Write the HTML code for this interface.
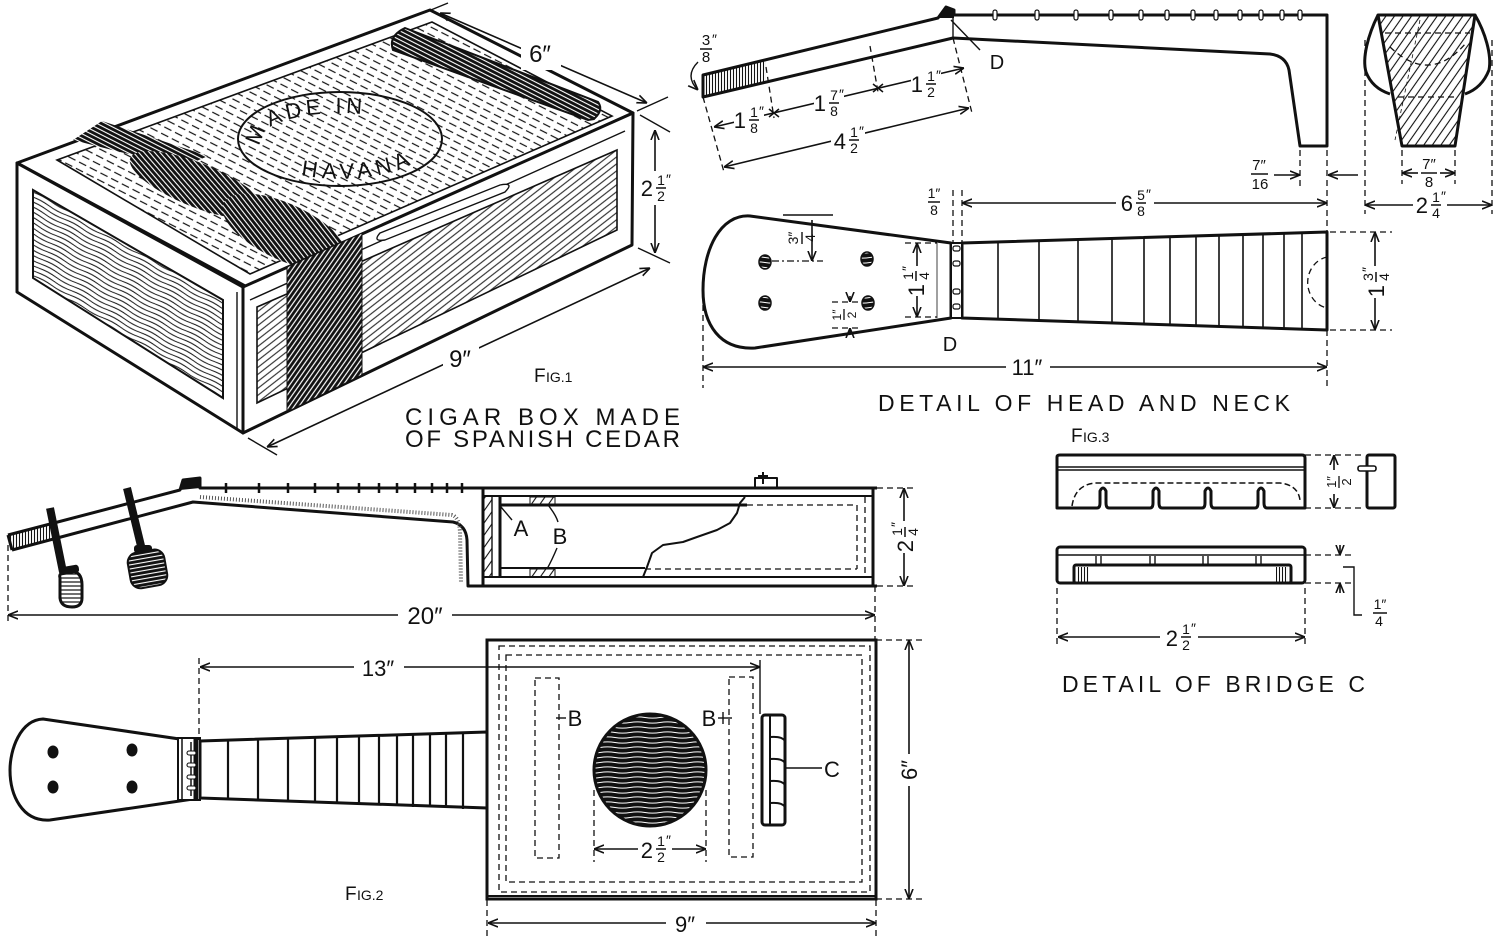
<!DOCTYPE html>
<html><head><meta charset="utf-8"><title>Cigar box ukulele</title><style>
html,body{margin:0;padding:0;background:#fff}
svg{display:block}
text{font-family:"Liberation Sans",sans-serif;fill:#111}
.o{fill:none;stroke:#111;stroke-width:3;stroke-linejoin:round}
.m{fill:none;stroke:#111;stroke-width:2;stroke-linejoin:round}
.t{fill:none;stroke:#111;stroke-width:1.4}
.d{fill:none;stroke:#111;stroke-width:1.6;marker-start:url(#a);marker-end:url(#a)}
.de{fill:none;stroke:#111;stroke-width:1.6;marker-end:url(#a)}
.x{fill:none;stroke:#111;stroke-width:1.3;stroke-dasharray:6 4}
.bg{fill:#fff;stroke:none}
.b{font-size:22px}
.s{font-size:14px}
</style></head><body>
<svg xmlns="http://www.w3.org/2000/svg" width="1500" height="939" viewBox="0 0 1500 939">
<defs>
<marker id="a" viewBox="0 0 10 10" refX="10" refY="5" markerWidth="10" markerHeight="10" markerUnits="userSpaceOnUse" orient="auto-start-reverse"><path d="M0,1 L10,5 L0,9" fill="none" stroke="#111" stroke-width="1.6"/></marker>
<pattern id="pDash" patternUnits="userSpaceOnUse" width="12" height="7" patternTransform="rotate(27)"><line x1="0" y1="3.5" x2="8" y2="3.5" stroke="#111" stroke-width="1.2"/></pattern>
<pattern id="pGrain" patternUnits="userSpaceOnUse" width="40" height="4.6" patternTransform="rotate(28)"><path d="M0,2.3 Q10,0.8 20,2.3 T40,2.3" fill="none" stroke="#111" stroke-width="1"/></pattern>
<pattern id="pDiag" patternUnits="userSpaceOnUse" width="20" height="5.5" patternTransform="rotate(-38)"><line x1="0" y1="2.7" x2="20" y2="2.7" stroke="#111" stroke-width="1"/></pattern>
<pattern id="pDk" patternUnits="userSpaceOnUse" width="10" height="4" patternTransform="rotate(27)"><rect width="10" height="4" fill="#111"/><line x1="0" y1="2" x2="10" y2="2" stroke="#fff" stroke-width="1.1"/></pattern>
<pattern id="pDk2" patternUnits="userSpaceOnUse" width="10" height="4" patternTransform="rotate(-55)"><rect width="10" height="4" fill="#111"/><line x1="0" y1="2" x2="10" y2="2" stroke="#fff" stroke-width="1.2"/></pattern>
<pattern id="pX" patternUnits="userSpaceOnUse" width="10" height="7" patternTransform="rotate(-55)"><line x1="0" y1="3.5" x2="10" y2="3.5" stroke="#111" stroke-width="1.1"/></pattern>
<pattern id="pV" patternUnits="userSpaceOnUse" width="3" height="10"><line x1="1.5" y1="0" x2="1.5" y2="10" stroke="#111" stroke-width="1.1"/></pattern>
<pattern id="pHole" patternUnits="userSpaceOnUse" width="30" height="5"><rect width="30" height="5" fill="#111"/><path d="M0,2.5 Q7.5,1.3 15,2.5 T30,2.5" stroke="#fff" stroke-width="1" fill="none"/></pattern>
<pattern id="pH" patternUnits="userSpaceOnUse" width="10" height="4"><line x1="0" y1="2" x2="10" y2="2" stroke="#111" stroke-width="1.2"/></pattern>
<pattern id="pHd" patternUnits="userSpaceOnUse" width="10" height="4"><rect width="10" height="4" fill="#111"/><line x1="0" y1="2" x2="10" y2="2" stroke="#fff" stroke-width="1.1"/></pattern>
</defs>

<!-- ================= FIG 1 : CIGAR BOX ================= -->
<polygon points="17,163 430,10 633,113 247,287" fill="#fff" stroke="#111" stroke-width="3" stroke-linejoin="round"/>
<polygon points="57,160 432,22 612,116 250,274" fill="url(#pDash)" stroke="#111" stroke-width="1.6"/>
<path d="M405,28 L598,102 Q604,110 594,119 L588,120 L393,50 Q388,36 405,28 Z" fill="url(#pDk)" stroke="#111" stroke-width="2"/>
<polygon points="73,140 102,121 208,156 185,166 120,152" fill="url(#pDk)"/>
<ellipse cx="197" cy="185" rx="72" ry="22" transform="rotate(22 197 185)" fill="url(#pDk)"/>
<ellipse cx="285" cy="232" rx="68" ry="28" transform="rotate(25 285 232)" fill="url(#pDk)"/>
<ellipse cx="340" cy="139" rx="102" ry="47" fill="none" stroke="#111" stroke-width="2"/>
<path id="arc1" d="M265,146 A78,26 0 0 1 379,116.5" fill="none"/>
<path id="arc2" d="M301,175 A92,40 0 0 0 420,119" fill="none"/>
<text font-size="22" letter-spacing="4"><textPath href="#arc1" startOffset="0%">MADE IN</textPath></text>
<text font-size="22" letter-spacing="5"><textPath href="#arc2" startOffset="0%">HAVANA</textPath></text>

<polygon points="17,163 243,287 243,433 17,292" fill="#fff" stroke="#111" stroke-width="3" stroke-linejoin="round"/>
<polygon points="33,190 223,300 223,398 33,278" fill="url(#pGrain)" stroke="#111" stroke-width="2"/>
<line x1="237" y1="292" x2="237" y2="430" class="t"/>
<polygon points="243,287 633,113 632,245 243,433" fill="#fff" stroke="#111" stroke-width="3" stroke-linejoin="round"/>
<polygon points="257,307 617,150 617,230 257,403" fill="url(#pDiag)" stroke="#111" stroke-width="1.6"/>
<line x1="250" y1="300" x2="625" y2="131" class="t"/>
<path d="M380,233 L500,185 Q515,182 505,192 L385,240 Q372,242 380,233 Z" fill="#fff" stroke="#111" stroke-width="1.4"/>
<polygon points="287,267 362,233 362,375 287,412" fill="url(#pDk2)" stroke="#111" stroke-width="1"/>

<line x1="440" y1="13" x2="647" y2="103" class="d"/>
<line x1="637" y1="111" x2="668" y2="97" class="t"/>
<line x1="426" y1="12" x2="448" y2="3" class="t"/>
<rect x="521" y="40" width="40" height="30" class="bg"/>
<text x="540" y="62" font-size="24" text-anchor="middle">6″</text>
<line x1="655" y1="130" x2="655" y2="253" class="d"/>
<line x1="640" y1="115" x2="670" y2="132" class="t"/>
<line x1="638" y1="248" x2="670" y2="263" class="t"/>
<rect x="640" y="171" width="32" height="34" class="bg"/>
<text x="653" y="196" class="b" text-anchor="end">2</text>
<text x="661" y="185" class="s" text-anchor="middle">1</text><text x="666" y="184" class="s">″</text>
<line x1="656" y1="188" x2="666" y2="188" stroke="#111" stroke-width="1.5"/>
<text x="661" y="201" class="s" text-anchor="middle">2</text>
<line x1="267" y1="447" x2="650" y2="268" class="d"/>
<line x1="248" y1="438" x2="277" y2="455" class="t"/>
<rect x="443" y="344" width="36" height="30" class="bg"/>
<text x="460" y="367" font-size="24" text-anchor="middle">9″</text>
<text x="534" y="382" font-size="19">F</text><text x="546" y="382" font-size="14">IG.1</text>
<text x="405" y="425" font-size="24" textLength="275" lengthAdjust="spacing">CIGAR BOX MADE</text>
<text x="405" y="447" font-size="24" textLength="275" lengthAdjust="spacing">OF SPANISH CEDAR</text>

<!-- ================= FIG 3 HEAD & NECK (side) ================= -->
<path d="M703,75 L938,18 L946,7 L954,10 L954,15 L1327,15 L1327,146 L1300,146 L1289,70 Q1286,56 1270,54 L953,38 L703,97 Z" class="o" fill="#fff"/>
<polygon points="703,75 766,60 766,82 703,97" fill="url(#pV)"/>
<polygon points="938,18 946,7 954,10 954,18" fill="#111"/>
<line x1="953" y1="18" x2="953" y2="38" class="t"/>
<g fill="#fff" stroke="#111" stroke-width="1.2">
<rect x="993" y="10" width="4" height="10" rx="2"/><rect x="1035" y="10" width="4" height="10" rx="2"/><rect x="1074" y="10" width="4" height="10" rx="2"/><rect x="1109" y="10" width="4" height="10" rx="2"/><rect x="1139" y="10" width="4" height="10" rx="2"/><rect x="1165" y="10" width="4" height="10" rx="2"/><rect x="1191" y="10" width="4" height="10" rx="2"/><rect x="1214" y="10" width="4" height="10" rx="2"/><rect x="1238" y="10" width="4" height="10" rx="2"/><rect x="1259" y="10" width="4" height="10" rx="2"/><rect x="1280" y="10" width="4" height="10" rx="2"/><rect x="1298" y="10" width="4" height="10" rx="2"/>
</g>
<line x1="703" y1="97" x2="724" y2="172" class="x"/>
<line x1="766" y1="67" x2="774" y2="118" class="x"/>
<line x1="870" y1="46" x2="878" y2="92" class="x"/>
<line x1="953" y1="38" x2="972" y2="113" class="x"/>
<line x1="714" y1="127" x2="964" y2="68" class="d"/>
<line x1="724" y1="167" x2="969" y2="108" class="d"/>
<path d="M769,109 L779,117 M779,109 L769,117 M873,84 L883,92 M883,84 L873,92" stroke="#111" stroke-width="1.5"/>
<rect x="734" y="105" width="30" height="32" class="bg"/>
<text x="746" y="128" class="b" text-anchor="end">1</text><text x="754" y="117" class="s" text-anchor="middle">1</text><text x="759" y="116" class="s">″</text><line x1="749" y1="120" x2="759" y2="120" stroke="#111" stroke-width="1.5"/><text x="754" y="133" class="s" text-anchor="middle">8</text>
<rect x="814" y="88" width="30" height="32" class="bg"/>
<text x="826" y="111" class="b" text-anchor="end">1</text><text x="834" y="100" class="s" text-anchor="middle">7</text><text x="839" y="99" class="s">″</text><line x1="829" y1="103" x2="839" y2="103" stroke="#111" stroke-width="1.5"/><text x="834" y="116" class="s" text-anchor="middle">8</text>
<rect x="911" y="69" width="30" height="32" class="bg"/>
<text x="923" y="92" class="b" text-anchor="end">1</text><text x="931" y="81" class="s" text-anchor="middle">1</text><text x="936" y="80" class="s">″</text><line x1="926" y1="84" x2="936" y2="84" stroke="#111" stroke-width="1.5"/><text x="931" y="97" class="s" text-anchor="middle">2</text>
<rect x="831" y="124" width="34" height="34" class="bg"/>
<text x="846" y="149" class="b" text-anchor="end">4</text><text x="854" y="137" class="s" text-anchor="middle">1</text><text x="859" y="136" class="s">″</text><line x1="849" y1="140" x2="859" y2="140" stroke="#111" stroke-width="1.5"/><text x="854" y="153" class="s" text-anchor="middle">2</text>
<text x="706" y="45" font-size="15" text-anchor="middle">3</text><text x="712" y="44" font-size="14">″</text><line x1="700" y1="49" x2="712" y2="49" stroke="#111" stroke-width="1.5"/><text x="706" y="62" font-size="15" text-anchor="middle">8</text>
<path d="M698,62 Q684,76 698,90" class="t" marker-end="url(#a)"/>
<line x1="951" y1="20" x2="980" y2="50" class="t"/>
<text x="997" y="69" font-size="20" text-anchor="middle">D</text>
<line x1="1300" y1="150" x2="1300" y2="186" class="x"/>
<line x1="1274" y1="175" x2="1300" y2="175" class="de"/>
<line x1="1358" y1="175" x2="1328" y2="175" class="de"/>
<text x="1259" y="170" font-size="15" text-anchor="middle">7″</text><line x1="1251" y1="174" x2="1268" y2="174" stroke="#111" stroke-width="1.5"/><text x="1260" y="189" font-size="15" text-anchor="middle">16</text>

<polygon points="1378,15 1475,15 1455,146 1402,146" fill="url(#pX)" stroke="#111" stroke-width="3" stroke-linejoin="round"/>
<path d="M1378,15 C1368,35 1362,58 1366,72 Q1372,88 1390,94" class="o"/>
<path d="M1475,15 C1485,32 1492,55 1489,70 Q1482,88 1465,94" class="o"/>
<line x1="1385" y1="33" x2="1470" y2="33" class="x"/>
<path d="M1390,47 Q1430,85 1466,43" class="x"/>
<line x1="1398" y1="97" x2="1457" y2="97" class="x"/>
<line x1="1420" y1="20" x2="1395" y2="140" stroke="#111" stroke-width="0.8" stroke-dasharray="4 3"/>
<line x1="1402" y1="150" x2="1402" y2="184" class="x"/>
<line x1="1455" y1="150" x2="1455" y2="184" class="x"/>
<line x1="1418" y1="173" x2="1402" y2="173" class="de"/>
<line x1="1440" y1="173" x2="1455" y2="173" class="de"/>
<text x="1429" y="169" font-size="15" text-anchor="middle">7″</text><line x1="1421" y1="173" x2="1437" y2="173" stroke="#111" stroke-width="1.5"/><text x="1429" y="187" font-size="15" text-anchor="middle">8</text>
<line x1="1365" y1="40" x2="1365" y2="214" class="x"/>
<line x1="1492" y1="40" x2="1492" y2="214" class="x"/>
<line x1="1365" y1="205" x2="1492" y2="205" class="d"/>
<rect x="1413" y="189" width="34" height="34" class="bg"/>
<text x="1428" y="213" class="b" text-anchor="end">2</text><text x="1436" y="202" class="s" text-anchor="middle">1</text><text x="1441" y="201" class="s">″</text><line x1="1431" y1="205" x2="1441" y2="205" stroke="#111" stroke-width="1.5"/><text x="1436" y="218" class="s" text-anchor="middle">4</text>

<!-- ================= HEAD & NECK top view ================= -->
<path d="M951,243 L750,216 C720,214 703,250 703,290 C703,325 720,350 755,348 L951,318 Z" class="o" fill="#fff"/>
<path d="M962,243 L1327,232 L1327,330 L962,318 Z" class="o" fill="#fff"/>
<rect x="951" y="243" width="11" height="75" fill="#fff" stroke="#111" stroke-width="2"/>
<g fill="#fff" stroke="#111" stroke-width="1.2">
<rect x="953" y="246" width="7" height="5" rx="2"/><rect x="953" y="261" width="7" height="5" rx="2"/><rect x="953" y="289" width="7" height="5" rx="2"/><rect x="953" y="304" width="7" height="5" rx="2"/>
</g>
<line x1="937" y1="243" x2="937" y2="318" stroke="#111" stroke-width="0.8"/>
<g stroke="#111" stroke-width="1.6">
<line x1="998" y1="241" x2="998" y2="319"/><line x1="1039" y1="240" x2="1039" y2="321"/><line x1="1078" y1="239" x2="1078" y2="322"/><line x1="1112" y1="238" x2="1112" y2="323"/><line x1="1144" y1="237" x2="1144" y2="324"/><line x1="1170" y1="236" x2="1170" y2="325"/><line x1="1196" y1="236" x2="1196" y2="326"/><line x1="1219" y1="235" x2="1219" y2="327"/><line x1="1243" y1="234" x2="1243" y2="327"/><line x1="1263" y1="234" x2="1263" y2="328"/><line x1="1284" y1="233" x2="1284" y2="329"/><line x1="1302" y1="233" x2="1302" y2="329"/>
</g>
<path d="M1327,257 A24,26 0 0 0 1327,308" class="x"/>
<g fill="url(#pHole)" stroke="#111" stroke-width="1.5">
<ellipse cx="765" cy="262" rx="6" ry="7"/><ellipse cx="867" cy="259" rx="6" ry="7"/><ellipse cx="765" cy="303" rx="6" ry="7"/><ellipse cx="868" cy="303" rx="6" ry="7"/>
</g>
<line x1="783" y1="215" x2="833" y2="215" class="t"/>
<line x1="772" y1="261" x2="823" y2="261" stroke="#111" stroke-width="1.3" stroke-dasharray="7 3 2 3"/>
<line x1="812" y1="220" x2="812" y2="261" class="de"/>
<g transform="translate(800,238) rotate(-90)"><text x="0" y="-2" class="s" text-anchor="middle">3″</text><line x1="-6" y1="2" x2="6" y2="2" stroke="#111" stroke-width="1.4"/><text x="0" y="15" class="s" text-anchor="middle">4</text></g>
<line x1="905" y1="243" x2="937" y2="243" class="x"/>
<line x1="905" y1="317" x2="937" y2="317" class="x"/>
<line x1="917" y1="243" x2="917" y2="317" class="d"/>
<rect x="903" y="266" width="26" height="30" class="bg"/>
<g transform="translate(916,281) rotate(-90)"><text x="-3" y="8" class="b" text-anchor="end">1</text><text x="5" y="-3" class="s" text-anchor="middle">1</text><text x="10" y="-4" class="s">″</text><line x1="0" y1="0" x2="10" y2="0" stroke="#111" stroke-width="1.5"/><text x="5" y="13" class="s" text-anchor="middle">4</text></g>
<line x1="832" y1="302" x2="858" y2="302" class="x"/>
<line x1="832" y1="328" x2="858" y2="328" class="x"/>
<line x1="850" y1="296" x2="850" y2="302" class="de"/>
<line x1="850" y1="334" x2="850" y2="328" class="de"/>
<g transform="translate(843,315) rotate(-90)"><text x="0" y="-2" font-size="12" text-anchor="middle">1″</text><line x1="-5" y1="1" x2="6" y2="1" stroke="#111" stroke-width="1.3"/><text x="0" y="13" font-size="12" text-anchor="middle">2</text></g>
<text x="950" y="351" font-size="20" text-anchor="middle">D</text>
<line x1="703" y1="305" x2="703" y2="388" class="x"/>
<line x1="1327" y1="150" x2="1327" y2="388" class="x"/>
<line x1="953" y1="190" x2="953" y2="243" class="x"/>
<line x1="962" y1="190" x2="962" y2="243" class="x"/>
<line x1="703" y1="367" x2="1327" y2="367" class="d"/>
<rect x="1006" y="354" width="44" height="26" class="bg"/>
<text x="1027" y="375" class="b" text-anchor="middle">11″</text>
<line x1="962" y1="203" x2="1327" y2="203" class="d"/>
<rect x="1116" y="187" width="38" height="34" class="bg"/>
<text x="1133" y="211" class="b" text-anchor="end">6</text><text x="1141" y="200" class="s" text-anchor="middle">5</text><text x="1146" y="199" class="s">″</text><line x1="1136" y1="203" x2="1146" y2="203" stroke="#111" stroke-width="1.5"/><text x="1141" y="216" class="s" text-anchor="middle">8</text>
<text x="934" y="198" class="s" text-anchor="middle">1″</text><line x1="928" y1="202" x2="940" y2="202" stroke="#111" stroke-width="1.5"/><text x="934" y="215" class="s" text-anchor="middle">8</text>
<line x1="1330" y1="232" x2="1392" y2="232" class="x"/>
<line x1="1330" y1="330" x2="1392" y2="330" class="x"/>
<line x1="1375" y1="232" x2="1375" y2="330" class="d"/>
<rect x="1362" y="266" width="26" height="32" class="bg"/>
<g transform="translate(1376,282) rotate(-90)"><text x="-3" y="8" class="b" text-anchor="end">1</text><text x="5" y="-3" class="s" text-anchor="middle">3</text><text x="10" y="-4" class="s">″</text><line x1="0" y1="0" x2="10" y2="0" stroke="#111" stroke-width="1.5"/><text x="5" y="13" class="s" text-anchor="middle">4</text></g>
<text x="878" y="411" font-size="23" textLength="412" lengthAdjust="spacing">DETAIL OF HEAD AND NECK</text>

<!-- ================= FIG 2 side view ================= -->
<line x1="50" y1="508" x2="63" y2="572" stroke="#111" stroke-width="8"/>
<line x1="127" y1="488" x2="142" y2="550" stroke="#111" stroke-width="8"/>
<path d="M8,535 L180,490 L183,480 L200,478 L200,488 L877,488" class="o"/>
<path d="M12,550 L193,502 L453,522 Q466,525 467,540 L468,586 L877,586" class="o"/>
<line x1="8" y1="535" x2="12" y2="550" class="o"/>
<polygon points="8,535 50,524 52,539 12,550" fill="url(#pV)"/>
<polygon points="180,490 183,480 200,478 200,488" fill="#111"/>
<path d="M200,497 L452,515 Q459,517 460,532 L461,582" fill="none" stroke="#555" stroke-width="4" stroke-dasharray="1 2"/>
<g stroke="#111" stroke-width="2.5">
<line x1="226" y1="483" x2="226" y2="493"/><line x1="259" y1="483" x2="259" y2="493"/><line x1="288" y1="483" x2="288" y2="493"/><line x1="315" y1="483" x2="315" y2="493"/><line x1="338" y1="483" x2="338" y2="493"/><line x1="359" y1="483" x2="359" y2="493"/><line x1="379" y1="483" x2="379" y2="493"/><line x1="397" y1="483" x2="397" y2="493"/><line x1="415" y1="483" x2="415" y2="493"/><line x1="432" y1="483" x2="432" y2="493"/><line x1="447" y1="483" x2="447" y2="493"/><line x1="462" y1="483" x2="462" y2="493"/>
</g>
<rect x="59" y="566" width="20" height="8" rx="3" fill="#111" transform="rotate(-10 69 570)"/>
<path d="M60,578 Q58,572 70,571 Q82,571 82,585 L82,598 Q82,607 72,607 Q61,607 60,598 Z" fill="url(#pH)" stroke="#111" stroke-width="3"/>
<rect x="134" y="545" width="18" height="8" rx="3" fill="#111"/>
<rect x="129" y="551" width="37" height="36" rx="10" fill="url(#pHd)" stroke="#111" stroke-width="2" transform="rotate(-10 147 569)"/>
<line x1="483" y1="488" x2="483" y2="586" class="o"/>
<line x1="873" y1="488" x2="873" y2="586" class="o"/>
<line x1="483" y1="496" x2="873" y2="496" class="m"/>
<line x1="483" y1="577" x2="873" y2="577" class="m"/>
<rect x="483" y="496" width="9" height="81" fill="url(#pX)" stroke="#111" stroke-width="1.4"/>
<line x1="500" y1="496" x2="500" y2="577" class="o"/>
<line x1="500" y1="505" x2="747" y2="505" class="o"/>
<line x1="500" y1="568" x2="645" y2="568" class="m"/>
<rect x="530" y="497" width="25" height="8" fill="url(#pX)" stroke="#111" stroke-width="1"/>
<rect x="530" y="569" width="25" height="8" fill="url(#pX)" stroke="#111" stroke-width="1"/>
<path d="M745,497 L740,503 L737,513 L730,523 L717,530 L697,537 L683,542 L663,545 L652,553 L647,567 L643,577" class="m"/>
<line x1="747" y1="505" x2="857" y2="505" class="x"/>
<line x1="645" y1="569" x2="857" y2="569" class="x"/>
<line x1="857" y1="505" x2="857" y2="569" class="x"/>
<line x1="865" y1="497" x2="865" y2="577" class="x"/>
<path d="M755,488 L755,478 L777,478 L777,488 M763,472 L763,484 M758,476 L768,476" class="m"/>
<line x1="501" y1="507" x2="512" y2="520" class="t"/>
<text x="521" y="536" class="b" text-anchor="middle">A</text>
<path d="M548,505 Q556,515 558,522 M557,548 Q552,560 547,569" class="t"/>
<text x="560" y="544" class="b" text-anchor="middle">B</text>
<line x1="877" y1="488" x2="915" y2="488" class="x"/>
<line x1="877" y1="586" x2="915" y2="586" class="x"/>
<line x1="904" y1="488" x2="904" y2="586" class="d"/>
<rect x="891" y="521" width="26" height="32" class="bg"/>
<g transform="translate(905,537) rotate(-90)"><text x="-3" y="8" class="b" text-anchor="end">2</text><text x="5" y="-3" class="s" text-anchor="middle">1</text><text x="10" y="-4" class="s">″</text><line x1="0" y1="0" x2="10" y2="0" stroke="#111" stroke-width="1.5"/><text x="5" y="13" class="s" text-anchor="middle">4</text></g>
<line x1="8" y1="545" x2="8" y2="625" class="x"/>
<line x1="875" y1="586" x2="875" y2="640" class="x"/>
<line x1="8" y1="615" x2="875" y2="615" class="d"/>
<rect x="398" y="602" width="54" height="26" class="bg"/>
<text x="425" y="624" font-size="24" text-anchor="middle">20″</text>

<!-- ================= FIG 2 top view ================= -->
<path d="M200,742 L43,719 C20,720 10,750 10,770 C10,795 22,822 50,820 L200,798 Z" class="o" fill="#fff"/>
<path d="M200,741 L487,732 L487,808 L200,798 Z" class="o" fill="#fff"/>
<rect x="178" y="738" width="22" height="62" fill="#fff" stroke="#111" stroke-width="2"/>
<line x1="182" y1="738" x2="182" y2="800" stroke="#111" stroke-width="1.5"/>
<line x1="196" y1="738" x2="196" y2="800" stroke="#111" stroke-width="5"/>
<line x1="191" y1="742" x2="191" y2="796" stroke="#111" stroke-width="1.5"/>
<g fill="#fff" stroke="#111" stroke-width="1.1"><rect x="187" y="751" width="9" height="4" rx="2"/><rect x="187" y="763" width="9" height="4" rx="2"/><rect x="187" y="775" width="9" height="4" rx="2"/><rect x="187" y="786" width="9" height="4" rx="2"/></g>
<g stroke="#111" stroke-width="2.2">
<line x1="228" y1="741" x2="228" y2="799"/><line x1="258" y1="740" x2="258" y2="800"/><line x1="288" y1="739" x2="288" y2="802"/><line x1="315" y1="738" x2="315" y2="803"/><line x1="337" y1="737" x2="337" y2="804"/><line x1="359" y1="736" x2="359" y2="805"/><line x1="379" y1="736" x2="379" y2="805"/><line x1="397" y1="735" x2="397" y2="806"/><line x1="413" y1="735" x2="413" y2="807"/><line x1="430" y1="734" x2="430" y2="807"/><line x1="446" y1="733" x2="446" y2="808"/><line x1="463" y1="733" x2="463" y2="809"/>
</g>
<g fill="#111"><ellipse cx="53" cy="752" rx="5.5" ry="6.5"/><ellipse cx="132" cy="750" rx="5.5" ry="6.5"/><ellipse cx="53" cy="787" rx="5.5" ry="6.5"/><ellipse cx="132" cy="787" rx="5.5" ry="6.5"/></g>
<rect x="487" y="640" width="389" height="259" fill="#fff" stroke="#111" stroke-width="3"/>
<line x1="487" y1="896" x2="876" y2="896" class="m"/>
<rect x="499" y="646" width="371" height="246" class="x"/>
<rect x="506" y="655" width="356" height="227" class="x"/>
<rect x="535" y="678" width="24" height="180" class="x"/>
<rect x="729" y="677" width="24" height="180" class="x"/>
<circle cx="650" cy="770" r="56" fill="url(#pHole)" stroke="#111" stroke-width="3"/>
<rect x="762" y="715" width="23" height="110" rx="3" fill="#fff" stroke="#111" stroke-width="3"/>
<line x1="770" y1="715" x2="770" y2="825" class="m"/>
<path d="M770,737 Q782,736 785,741 M770,759 Q782,758 785,763 M770,781 Q782,780 785,785 M770,803 Q782,802 785,807" class="m"/>
<line x1="785" y1="768" x2="822" y2="768" class="t"/>
<text x="832" y="777" class="b" text-anchor="middle">C</text>
<line x1="556" y1="718" x2="566" y2="718" class="t"/>
<text x="575" y="726" class="b" text-anchor="middle">B</text>
<line x1="718" y1="718" x2="732" y2="718" class="t"/><line x1="723" y1="712" x2="723" y2="724" class="t"/>
<text x="709" y="726" class="b" text-anchor="middle">B</text>
<line x1="199" y1="658" x2="199" y2="740" class="x"/>
<line x1="760" y1="660" x2="760" y2="714" class="t"/>
<line x1="200" y1="667" x2="760" y2="667" class="d"/>
<rect x="354" y="654" width="50" height="26" class="bg"/>
<text x="378" y="676" class="b" text-anchor="middle">13″</text>
<line x1="594" y1="790" x2="594" y2="862" class="x"/>
<line x1="706" y1="790" x2="706" y2="862" class="x"/>
<line x1="594" y1="849" x2="706" y2="849" class="d"/>
<rect x="638" y="833" width="34" height="36" class="bg"/>
<text x="653" y="858" class="b" text-anchor="end">2</text><text x="661" y="846" class="s" text-anchor="middle">1</text><text x="666" y="845" class="s">″</text><line x1="656" y1="849" x2="666" y2="849" stroke="#111" stroke-width="1.5"/><text x="661" y="862" class="s" text-anchor="middle">2</text>
<line x1="876" y1="640" x2="922" y2="640" class="x"/>
<line x1="876" y1="899" x2="922" y2="899" class="x"/>
<line x1="909" y1="640" x2="909" y2="899" class="d"/>
<rect x="896" y="754" width="26" height="32" class="bg"/>
<g transform="translate(909,770) rotate(-90)"><text x="0" y="8" class="b" text-anchor="middle">6″</text></g>
<line x1="487" y1="900" x2="487" y2="936" class="x"/>
<line x1="876" y1="900" x2="876" y2="936" class="x"/>
<line x1="488" y1="923" x2="876" y2="923" class="d"/>
<rect x="666" y="910" width="40" height="26" class="bg"/>
<text x="685" y="932" class="b" text-anchor="middle">9″</text>
<text x="345" y="900" font-size="19">F</text><text x="357" y="900" font-size="14">IG.2</text>

<!-- ================= FIG 3 BRIDGE ================= -->
<text x="1071" y="442" font-size="19">F</text><text x="1083" y="442" font-size="14">IG.3</text>
<path d="M1057,508 L1057,457 Q1057,455 1060,455 L1302,455 Q1305,455 1305,458 L1305,508 L1267,508 Q1264,508 1264,503 L1264,491 Q1261,485 1258,491 L1258,503 Q1258,508 1255,508 L1214,508 Q1211,508 1211,503 L1211,491 Q1208,485 1205,491 L1205,503 Q1205,508 1202,508 L1162,508 Q1159,508 1159,503 L1159,491 Q1156,485 1153,491 L1153,503 Q1153,508 1150,508 L1109,508 Q1106,508 1106,503 L1106,491 Q1103,485 1100,491 L1100,503 Q1100,508 1097,508 Z" class="o" fill="#fff"/>
<line x1="1057" y1="467" x2="1305" y2="467" class="t"/>
<line x1="1057" y1="470" x2="1305" y2="470" class="t"/>
<path d="M1072,506 Q1075,485 1095,483 L1280,483 Q1298,485 1300,500" fill="none" stroke="#111" stroke-width="1.5" stroke-dasharray="6 3"/>
<line x1="1305" y1="455" x2="1362" y2="455" class="x"/>
<line x1="1305" y1="508" x2="1362" y2="508" class="x"/>
<line x1="1334" y1="455" x2="1334" y2="508" class="d"/>
<rect x="1326" y="470" width="22" height="24" class="bg"/>
<g transform="translate(1338,482) rotate(-90)"><text x="0" y="-2" font-size="13" text-anchor="middle">1″</text><line x1="-6" y1="1" x2="6" y2="1" stroke="#111" stroke-width="1.3"/><text x="0" y="13" font-size="13" text-anchor="middle">2</text></g>
<rect x="1367" y="455" width="28" height="53" rx="2" fill="#fff" stroke="#111" stroke-width="3"/>
<rect x="1358" y="466" width="18" height="5" rx="2" fill="#fff" stroke="#111" stroke-width="1.6"/>
<rect x="1057" y="547" width="248" height="36" rx="3" fill="#fff" stroke="#111" stroke-width="3"/>
<line x1="1057" y1="555" x2="1305" y2="555" class="t"/>
<rect x="1074" y="565" width="217" height="18" rx="2" fill="#fff" stroke="#111" stroke-width="3"/>
<rect x="1077" y="567" width="12" height="15" fill="url(#pV)"/>
<rect x="1276" y="567" width="12" height="15" fill="url(#pV)"/>
<g stroke="#111" stroke-width="1.4">
<line x1="1096" y1="556" x2="1096" y2="565"/><line x1="1101" y1="556" x2="1101" y2="565"/><line x1="1150" y1="556" x2="1150" y2="565"/><line x1="1155" y1="556" x2="1155" y2="565"/><line x1="1203" y1="556" x2="1203" y2="565"/><line x1="1208" y1="556" x2="1208" y2="565"/><line x1="1256" y1="556" x2="1256" y2="565"/><line x1="1261" y1="556" x2="1261" y2="565"/>
</g>
<line x1="1305" y1="555" x2="1355" y2="555" class="x"/>
<line x1="1305" y1="583" x2="1355" y2="583" class="x"/>
<line x1="1340" y1="545" x2="1340" y2="555" class="de"/>
<line x1="1340" y1="593" x2="1340" y2="583" class="de"/>
<path d="M1343,567 L1354,567 L1354,615 L1362,615" class="t"/>
<text x="1380" y="609" class="s" text-anchor="middle">1″</text><line x1="1373" y1="613" x2="1387" y2="613" stroke="#111" stroke-width="1.5"/><text x="1379" y="626" class="s" text-anchor="middle">4</text>
<line x1="1057" y1="588" x2="1057" y2="646" class="x"/>
<line x1="1305" y1="588" x2="1305" y2="646" class="x"/>
<line x1="1058" y1="637" x2="1305" y2="637" class="d"/>
<rect x="1160" y="620" width="38" height="36" class="bg"/>
<text x="1178" y="646" class="b" text-anchor="end">2</text><text x="1186" y="634" class="s" text-anchor="middle">1</text><text x="1191" y="633" class="s">″</text><line x1="1181" y1="637" x2="1191" y2="637" stroke="#111" stroke-width="1.5"/><text x="1186" y="650" class="s" text-anchor="middle">2</text>
<text x="1062" y="692" font-size="23" textLength="303" lengthAdjust="spacing">DETAIL OF BRIDGE C</text>
</svg>
</body></html>
